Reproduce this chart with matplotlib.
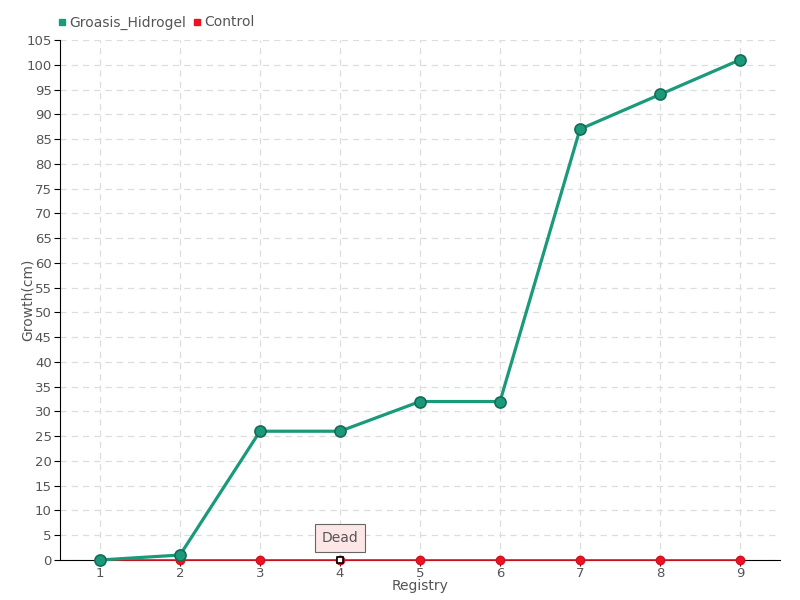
import matplotlib
matplotlib.use("Agg")
import matplotlib.pyplot as plt
from matplotlib.lines import Line2D

# data
registry = [1, 2, 3, 4, 5, 6, 7, 8, 9]
groasis_hidrogel = [0, 1, 26, 26, 32, 32, 87, 94, 101]
control = [0, 0, 0, 0, 0, 0, 0, 0, 0]
dead_point = (4, 0)
yticks = list(range(0, 110, 5))

GREEN = "#1a9a7a"
RED = "#ee1122"
TXT = "#555555"

plt.rcParams["font.family"] = ["DejaVu Sans"]

fig = plt.figure(figsize=(8, 6), dpi=100)
ax = fig.add_axes([0.075, 0.0667, 0.9, 0.8666])

ax.plot(registry, control, color=RED, lw=1.2, marker="o", ms=6,
        mfc=RED, mec="#cc1122", zorder=5, clip_on=False)
ax.plot(registry, groasis_hidrogel, color=GREEN, lw=2.3, marker="o", ms=8,
        mfc=GREEN, mec="#176b55", mew=1.2, zorder=6, clip_on=False)

# "Dead" marker and label
ax.plot(*dead_point, marker="s", ms=5, mfc="white", mec="black", mew=1.2,
        zorder=8, clip_on=False)
ax.annotate("Dead", xy=dead_point, xytext=(0, 16), textcoords="offset points",
            ha="center", va="center", fontsize=10, color=TXT,
            bbox=dict(boxstyle="square,pad=0.5", fc="#fde6e6", ec="#666666", lw=0.8),
            zorder=9)

ax.set_xlim(0.5, 9.5)
ax.set_ylim(0, 105)
ax.set_xticks(registry)
ax.set_yticks(yticks)
ax.tick_params(axis="both", colors="black", labelcolor=TXT, labelsize=9.5,
               length=4, direction="out", pad=2)
ax.tick_params(axis="x", pad=1)
ax.grid(True, linestyle=(0, (5, 4)), color="#dddddd", lw=0.9)
ax.set_axisbelow(True)
for s in ["top", "right"]:
    ax.spines[s].set_visible(False)
ax.spines["left"].set_color("black")
ax.spines["bottom"].set_color("black")

ax.set_xlabel("Registry", color=TXT, fontsize=10, va="center")
ax.set_ylabel("Growth(cm)", color=TXT, fontsize=10, va="center")
ax.xaxis.set_label_coords(0.5, -0.051)
ax.yaxis.set_label_coords(-0.045, 0.5)

handles = [
    Line2D([], [], ls="none", marker="s", ms=5, mfc=GREEN, mec=GREEN),
    Line2D([], [], ls="none", marker="s", ms=5, mfc=RED, mec=RED),
]
fig.legend(handles, ["Groasis_Hidrogel", "Control"], loc="upper left",
           bbox_to_anchor=(0.055, 0.995), ncol=2, frameon=False, fontsize=10,
           handletextpad=0.1, columnspacing=0.4, handlelength=0.8,
           labelcolor=TXT)

fig.savefig("out.png", dpi=100)
